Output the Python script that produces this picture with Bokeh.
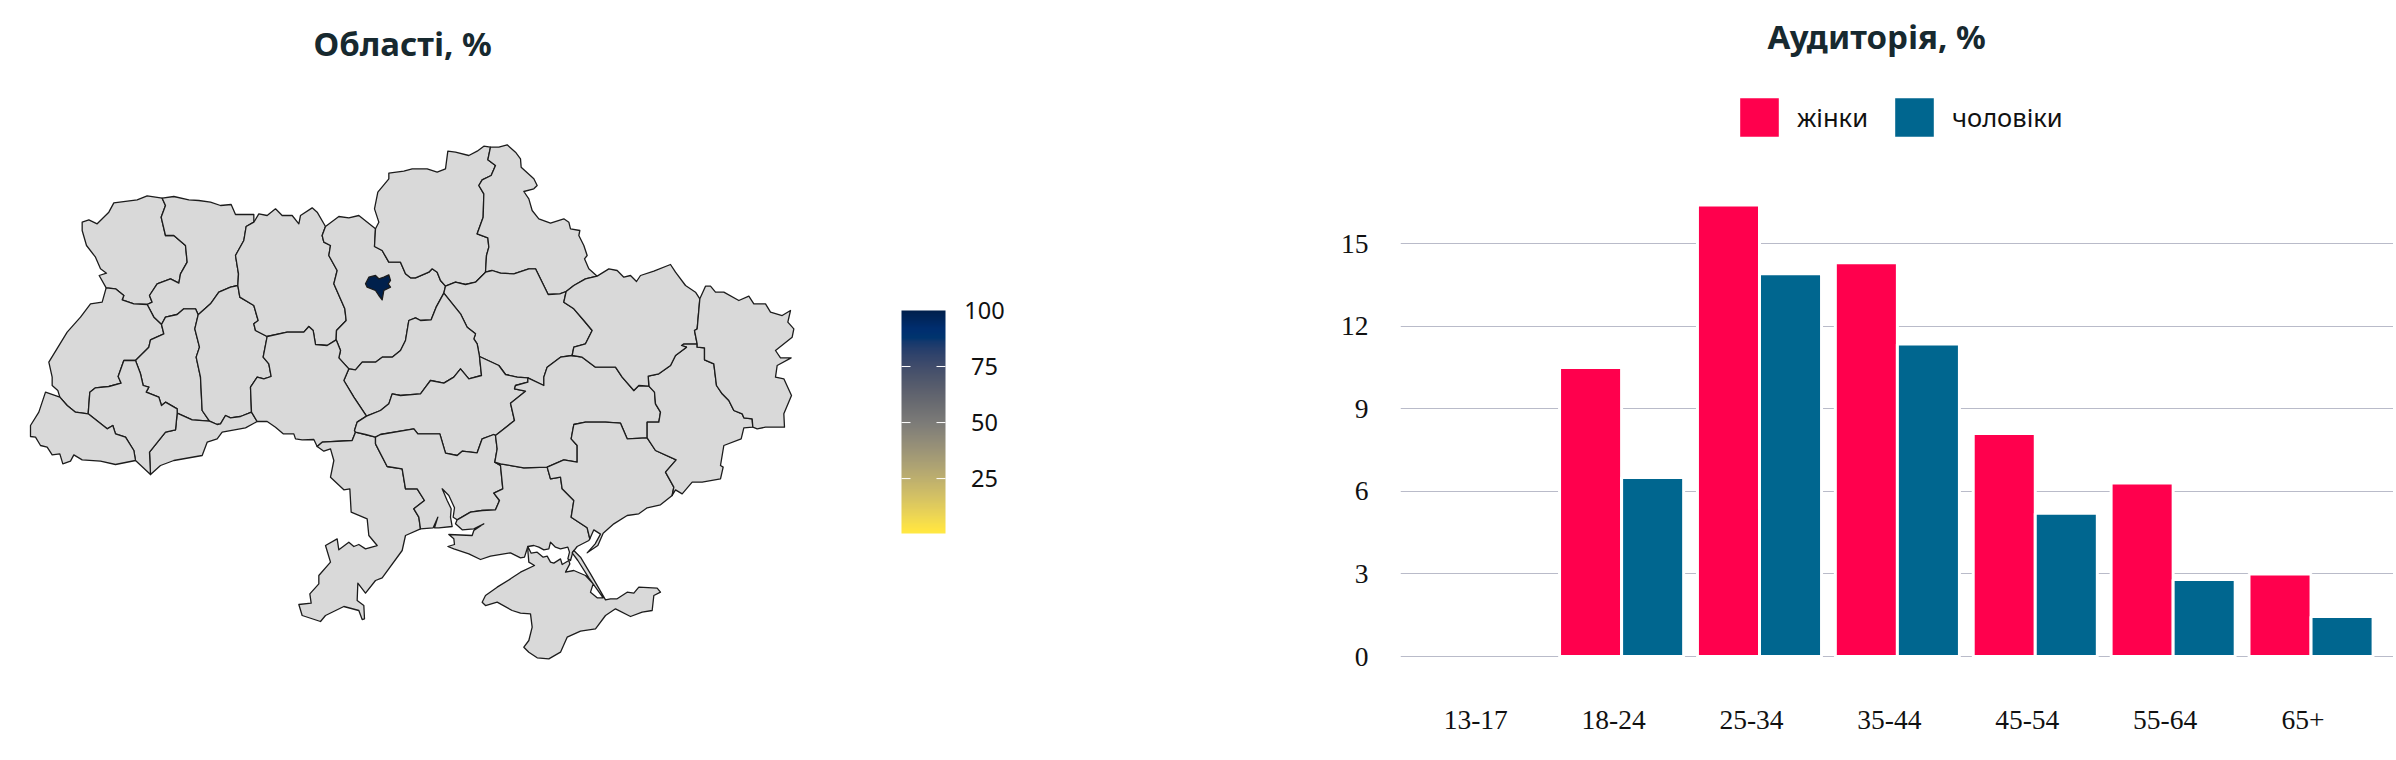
from bokeh.plotting import figure
from bokeh.layouts import row
from bokeh.embed import file_html
from bokeh.resources import INLINE
from bokeh.models import (Range1d, ColumnDataSource, LinearColorMapper, ColorBar, FixedTicker,
                          Legend, LegendItem, Title)
from bokeh.palettes import Cividis256
from bokeh.core.properties import value

# ---------- audience data ----------
age_groups = ["13-17", "18-24", "25-34", "35-44", "45-54", "55-64", "65+"]
women = [0, 10.5, 16.4, 14.3, 8.1, 6.3, 3.0]
men = [0, 6.5, 13.9, 11.35, 5.2, 2.8, 1.45]
y_ticks = [0, 3, 6, 9, 12, 15]

# ---------- map outlines, in trace units of three per pixel ----------
def rev(a):
    return a[::-1]
def s2(a):
    return [(x + 1200, y) for x, y in a]
def s3(a):
    return [(x + 840, y + 900) for x, y in a]

volyn_outer = [(485,233),(440,226),(410,238),(340,247),(325,275),(290,310),(265,298),(245,305),(245,330),(258,375),(285,410),(300,445),(318,458),(296,465),(317,502)]
volyn_lviv = [(317,502),(345,505),(370,525),(365,538),(400,550),(440,552)]
volyn_rivne = [(440,552),(455,545),(447,525),(470,490),(510,475),(535,488),(540,460),(560,425),(555,375),(520,345),(495,345),(482,290),(495,255),(485,233)]
rivne_north = [(485,233),(520,228),(565,238),(595,240),(630,245),(660,255),(692,252),(705,282),(760,282),(760,305)]
rivne_zhyt = [(760,305),(737,318),(730,360),(705,405),(714,460),(712,495)]
rivne_khmel = [(712,495),(690,500),(655,515),(630,550),(593,583)]
rivne_tern = [(593,583),(585,565),(550,565),(530,582),(495,590),(483,612)]
rivne_lviv = [(483,612),(460,590),(440,552)]
lviv_outer = [(317,502),(305,545),(270,550),(240,590),(200,635),(145,725),(155,770),(155,795),(172,810),(178,830)]
lviv_zak = [(178,830),(200,855),(225,875),(263,880)]
lviv_if = [(263,880),(268,815),(285,802),(325,798),(362,788),(353,768),(370,720),(405,720)]
lviv_tern = [(405,720),(445,680),(450,658),(490,640),(483,612)]
tern_if = [(405,720),(420,760),(428,795),(445,800),(437,815),(475,830),(483,855),(495,845),(530,865),(530,878)]
tern_chern = [(530,878),(575,898),(627,902)]
tern_khmel = [(627,902),(605,870),(600,770),(587,710),(597,680),(583,625),(593,583)]
khmel_zhyt = [(712,495),(718,530),(760,555),(773,600),(760,610),(765,630),(800,648)]
khmel_vinn = [(800,648),(788,710),(805,730),(812,768),(790,775),(770,770),(750,800),(753,875)]
khmel_chern = [(753,875),(720,888),(690,892),(675,885),(660,910),(650,912),(627,902)]
chern_vinn = [(753,875),(770,903)]
chern_outer = [(770,903),(735,922),(665,935),(650,955),(620,965),(605,1005),(520,1020),(480,1035),(450,1062)]
chern_if = [(450,1062),(447,995),(495,935),(525,928),(530,878)]
if_zak = [(263,880),(320,925),(337,915),(345,940),(375,950),(400,990),(405,1020)]
if_outer = [(405,1020),(450,1062)]
zak_outer = [(178,830),(135,815),(115,875),(90,915),(90,948),(105,950),(120,975),(140,980),(155,1003),(178,1000),(187,1030),(210,1022),(220,1003),(245,1018),(300,1022),(345,1032),(405,1020)]
zhyt_north = [(760,305),(775,280),(800,285),(825,265),(845,285),(875,285),(895,310),(900,285),(935,262),(950,275),(975,318)]
zhyt_kyiv = [(975,318),(965,345),(970,365),(990,375),(985,405),(1010,450),(1000,490),(1033,565),(1037,600),(1008,630),(1007,658)]
zhyt_vinn = [(1007,658),(980,675),(945,672),(938,630),(925,618),(910,635),(860,635),(800,648)]
kyiv_north = [(975,318),(1015,288),(1045,292),(1075,285),(1125,325)]
kyiv_chernihiv = [(1125,325),(1122,378),(1145,390),(1165,425),(1200,425),(1215,460),(1230,472),(1245,472),(1285,455),(1295,445),(1310,455),(1320,480),(1335,497)]
kyiv_poltava = [(1335,497),(1330,518)]
kyiv_cherkasy = [(1330,518),(1307,560),(1292,598),(1260,600),(1245,592),(1225,600),(1215,660),(1200,690),(1175,710),(1145,710),(1125,725),(1085,725),(1065,748),(1045,745)]
kyiv_vinn = [(1045,745),(1015,712),(1020,690),(1007,658)]
chernihiv_north = [(1125,325),(1135,305),(1122,265),(1132,215),(1165,175),(1165,158),(1210,152),(1235,145),(1280,145),(1310,155),(1335,145),(1342,92),(1365,95),(1405,105),(1430,92),(1450,77),(1470,80)]
chernihiv_sumy = s2([(270,80),(262,118),(285,135),(272,165),(245,178),(235,195),(250,220),(248,290),(230,340),(262,352),(265,380),(258,405),(255,455)])
chernihiv_poltava = s2([(255,455),(225,485),(195,492),(165,485),(135,497)])
sumy_north = s2([(270,80),(295,80),(320,73),(345,95),(360,115),(362,140),(400,175),(410,195),(400,205),(370,213),(385,235),(395,270),(415,295),(450,308),(490,295),(505,305),(510,325),(538,330),(535,345),(550,375),(560,405),(552,415),(565,445),(590,467)])
sumy_kharkiv = s2([(590,467),(555,475),(520,495),(497,513)])
sumy_poltava = s2([(497,513),(478,520),(443,522),(405,445),(385,445),(340,460),(300,458),(275,450),(255,455)])
poltava_kharkiv = s2([(497,513),(490,545),(520,565),(550,600),(575,630),(555,670),(520,680),(515,705)])
poltava_dnipro = s2([(515,705),(480,710),(440,740),(430,770),(430,795),(382,772)])
poltava_kirov = s2([(382,772),(350,770),(315,762),(295,735),(237,708)])
poltava_cherkasy = s2([(237,708),(230,670),(220,655),(225,640),(200,620),(180,580),(130,518)])
cherkasy_vinn = [(1045,745),(1030,780),(1060,830),(1098,887)]
cherkasy_kirov = [(1098,887),(1140,870),(1165,850),(1175,820),(1200,825)] + s2([(60,820),(75,800),(90,780),(130,788),(160,770),(180,745),(205,775),(243,765),(237,708)])
vinn_kirov = [(1098,887),(1070,905),(1062,930),(1065,935)]
vinn_odesa = [(1065,935),(1055,960),(965,965),(950,978)]
vinn_outer = [(950,978),(940,957),(905,958),(885,955),(880,940),(848,940),(825,920),(800,903),(770,903)]
odesa_coast = s3([(110,78),(130,92),(150,85),(160,120),(150,170),(190,208),(208,205),(212,275),(260,295),(265,345),(290,375),(255,385),(235,372),(220,378),(205,365),(175,388),(170,355),(135,375),(150,425),(115,465),(115,490),(88,520),(92,548),(55,552),(65,585),(120,603),(135,585),(190,558),(235,570),(245,597),(252,595),(250,555),(230,540),(232,488),(255,518),(285,480),(305,472),(365,390),(375,345),(420,325)])
odesa_mykolaiv = s3([(420,325),(415,290),(400,265),(432,240),(410,205),(375,205),(365,145),(320,138),(285,70),(285,50)])
odesa_kirov = s3([(285,50),(255,42),(225,35)])
kirov_mykolaiv = s3([(285,50),(300,42),(400,25),(412,40),(478,40),(495,98),(530,105),(545,92),(590,97),(605,55),(640,42),(645,45)])
kirov_dnipro = s2([(285,945),(342,900),(330,848),(375,812),(342,805),(345,795),(382,785),(382,772)])
mykolaiv_dnipro = s2([(285,945),(290,985),(283,1025)])
mykolaiv_kherson = s3([(643,125),(660,135),(667,205),(640,218),(657,240),(645,268),(605,270),(570,275),(530,298)])
mykolaiv_coast = s3([(530,298),(518,290),(522,262),(505,225),(485,205),(500,240),(512,265),(510,290),(515,318),(475,322),(462,322),(472,290),(458,322),(420,325)])
kherson_dnipro = s3([(643,125),(660,130),(730,142),(800,140)])
kherson_zap = s3([(800,140),(810,175),(840,170),(845,205),(880,240),(872,290),(920,322),(928,355)])
kherson_coast = s3([(928,355),(925,360),(890,378),(877,395),(870,420),(862,415),(867,395),(862,380),(840,385),(825,380),(810,365),(805,385),(790,388),(775,380),(760,375),(742,378),(732,410),(720,412),(690,397),(630,407),(600,417),(565,400),(520,385),(502,378),(522,372),(520,355),(505,342),(575,345),(580,330),(610,310),(580,325),(545,328),(525,310),(530,298)])
dnipro_zap = s2([(740,952),(680,955),(660,908),(615,905),(555,905),(520,912),(512,955),(530,975),(530,1025),(490,1018),(440,1040)])
dnipro_donetsk = s2([(745,797),(762,815),(765,850),(780,875),(775,905),(740,905),(740,952)])
dnipro_kharkiv = s2([(515,705),(545,710),(585,740),(645,740),(665,770),(700,810),(715,795),(745,797)])
zap_donetsk = s3([(1100,52),(1125,90),(1187,118),(1155,155),(1180,200),(1175,225)])
zap_coast = s3([(1175,225),(1140,253),(1100,262),(1075,280),(1040,285),(1000,310),(968,338),(952,375),(920,397),(944,370),(960,341),(940,328),(928,355)])
donetsk_kharkiv = s2([(745,797),(743,767),(775,760),(810,735),(825,705),(858,680),(843,675),(850,670),(890,670)])
donetsk_luhansk = s2([(890,670),(890,680),(912,682),(912,718),(940,730),(948,795),(965,820),(985,840),(1000,870),(1025,880),(1030,892),(1055,895),(1057,920)])
donetsk_outer = s2([(1057,920),(1030,922),(1022,955),(970,975),(960,1035),(968,1040),(960,1075),(905,1085),(875,1085),(845,1120),(825,1108),(815,1125)])
kharkiv_north = s2([(590,467),(625,445),(650,450),(670,470),(690,465),(708,483),(720,465),(760,452),(810,432),(825,455),(855,495),(885,515),(898,535)])
kharkiv_luhansk = s2([(898,535),(890,625),(882,630),(890,670)])
luhansk_outer = s2([(898,535),(915,497),(930,497),(945,515),(970,515),(1015,540),(1045,527),(1060,550),(1095,550),(1110,575),(1145,585),(1170,570),(1162,605),(1180,625),(1175,650),(1125,690),(1140,712),(1172,712),(1130,735),(1125,770),(1150,775),(1173,825),(1150,880),(1152,920),(1095,920),(1070,925),(1057,920)])
crimea = s3([(742,378),(742,390),(745,425),(762,435),(720,455),(690,475),(650,500),(615,525),(605,545),(615,555),(650,545),(695,570),(720,578),(750,580),(755,620),(745,660),(730,680),(745,695),(770,712),(805,715),(840,695),(860,650),(900,632),(945,625),(975,585),(1005,565),(1050,588),(1085,575),(1115,570),(1120,525),(1140,515),(1130,503),(1075,500),(1060,518),(1040,515),(1010,535),(990,535),(975,538),(930,460),(900,410),(880,390),(875,397),(892,420),(925,472),(968,532),(950,532),(930,515),(938,490),(915,465),(880,450),(855,455),(868,430),(865,420),(845,432),(840,415),(820,428),(810,425),(800,407),(788,410),(770,395),(752,398),(742,378)])
kyiv_city = [(1095,490),(1105,470),(1125,465),(1135,475),(1150,470),(1165,463),(1170,480),(1163,490),(1170,500),(1150,510),(1145,538),(1135,525),(1125,510),(1100,500)]

regions = {
    "Волинська": volyn_outer + volyn_lviv + volyn_rivne,
    "Рівненська": rivne_north + rivne_zhyt + rivne_khmel + rivne_tern + rivne_lviv + volyn_rivne,
    "Львівська": lviv_outer + lviv_zak + lviv_if + lviv_tern + rivne_lviv + rev(volyn_lviv),
    "Тернопільська": tern_if + tern_chern + tern_khmel + rivne_tern + rev(lviv_tern),
    "Хмельницька": khmel_zhyt + khmel_vinn + khmel_chern + tern_khmel + rev(rivne_khmel),
    "Чернівецька": chern_vinn + chern_outer + chern_if + tern_chern + rev(khmel_chern),
    "Івано-Франківська": if_zak + if_outer + chern_if + rev(tern_if) + rev(lviv_if),
    "Закарпатська": zak_outer + rev(if_zak) + rev(lviv_zak),
    "Житомирська": zhyt_north + zhyt_kyiv + zhyt_vinn + rev(khmel_zhyt) + rev(rivne_zhyt),
    "Київська": kyiv_north + kyiv_chernihiv + kyiv_poltava + kyiv_cherkasy + kyiv_vinn + rev(zhyt_kyiv),
    "Чернігівська": chernihiv_north + chernihiv_sumy + chernihiv_poltava + rev(kyiv_chernihiv),
    "Сумська": sumy_north + sumy_kharkiv + sumy_poltava + rev(chernihiv_sumy),
    "Полтавська": rev(chernihiv_poltava) + rev(sumy_poltava) + poltava_kharkiv + poltava_dnipro + poltava_kirov + poltava_cherkasy + rev(kyiv_poltava),
    "Черкаська": rev(kyiv_cherkasy) + rev(poltava_cherkasy) + rev(cherkasy_kirov) + rev(cherkasy_vinn),
    "Вінницька": rev(zhyt_vinn) + rev(kyiv_vinn) + cherkasy_vinn + vinn_kirov + vinn_odesa + vinn_outer + rev(chern_vinn) + rev(khmel_vinn),
    "Одеська": vinn_odesa + odesa_coast + odesa_mykolaiv + odesa_kirov,
    "Кіровоградська": rev(odesa_kirov) + kirov_mykolaiv + kirov_dnipro + poltava_kirov + rev(cherkasy_kirov) + vinn_kirov,
    "Миколаївська": kirov_mykolaiv + mykolaiv_dnipro + mykolaiv_kherson + mykolaiv_coast + odesa_mykolaiv,
    "Херсонська": kherson_dnipro + kherson_zap + kherson_coast + rev(mykolaiv_kherson),
    "Дніпропетровська": rev(poltava_dnipro) + dnipro_kharkiv + dnipro_donetsk + dnipro_zap + rev(kherson_dnipro) + rev(mykolaiv_dnipro) + kirov_dnipro,
    "Запорізька": rev(dnipro_zap) + zap_donetsk + zap_coast + rev(kherson_zap),
    "Донецька": donetsk_kharkiv + donetsk_luhansk + donetsk_outer + rev(zap_donetsk) + rev(dnipro_donetsk),
    "Харківська": kharkiv_north + kharkiv_luhansk + rev(donetsk_kharkiv) + rev(dnipro_kharkiv) + rev(poltava_kharkiv) + rev(sumy_kharkiv),
    "Луганська": luhansk_outer + rev(donetsk_luhansk) + rev(kharkiv_luhansk),
    "АР Крим": crimea,
    "м. Київ": kyiv_city,
}
region_values = {"м. Київ": 100}
scale_ticks = [25, 50, 75, 100]

TITLE_COLOR = "#17292f"
UI_FONT = "Noto Sans"

# ---------- map ----------
names = list(regions)
src = ColumnDataSource(dict(
    name=names,
    xs=[[x for x, _ in regions[n]] for n in names],
    ys=[[y for _, y in regions[n]] for n in names],
    v=[region_values.get(n, float("nan")) for n in names],
))
SCALE_LOW, SCALE_HIGH = 0.5, 100
mapper = LinearColorMapper(palette=list(Cividis256)[::-1], low=SCALE_LOW, high=SCALE_HIGH, nan_color="#d9d9d9")

left = figure(width=1300, height=744, output_backend="svg", toolbar_location=None,
              x_range=Range1d(0, 3900), y_range=Range1d(1620, -165),
              min_border=0, min_border_top=65, min_border_left=0, min_border_right=0, min_border_bottom=84,
              outline_line_color=None, background_fill_color="white", border_fill_color="white")
left.axis.visible = False
left.grid.visible = False
left.patches("xs", "ys", source=src,
             fill_color={"field": "v", "transform": mapper},
             line_color="#1c1c1c", line_width=1.3, line_join="round")

bar = ColorBar(color_mapper=mapper, location=(901, 127), width=44, height=223, padding=0, margin=0,
               ticker=FixedTicker(ticks=scale_ticks), major_label_overrides={t: "" for t in scale_ticks},
               major_tick_line_color=None, minor_tick_line_color=None, bar_line_color=None,
               border_line_color=None, background_fill_color=None)
left.add_layout(bar, "center")

# scale ticks and labels, placed through the colour scale's own value-to-height relation
def scale_y(v):
    top, bottom = (310 - 120) * 3, (533 - 120) * 3
    return bottom + (top - bottom) * (v - SCALE_LOW) / (SCALE_HIGH - SCALE_LOW)

inner_ticks = [t for t in scale_ticks if t < SCALE_HIGH]
left.segment(x0=[2703] * 3, x1=[2730] * 3, y0=[scale_y(t) for t in inner_ticks], y1=[scale_y(t) for t in inner_ticks],
             line_color="white", line_width=1, level="overlay")
left.segment(x0=[2808] * 3, x1=[2835] * 3, y0=[scale_y(t) for t in inner_ticks], y1=[scale_y(t) for t in inner_ticks],
             line_color="white", line_width=1, level="overlay")
left.text(x=[2952] * 4, y=[scale_y(t) for t in scale_ticks], text=[str(t) for t in scale_ticks],
          text_align="center", text_baseline="middle", text_font=value(UI_FONT), text_font_size="23.5px",
          text_color="#111111")

left.title = Title(text="Області, %", text_font=UI_FONT, text_font_size="33px", text_font_style="bold",
                   text_color=TITLE_COLOR, align="left", offset=313, standoff=0)

# ---------- bars ----------
right = figure(width=1093, height=744, output_backend="svg", toolbar_location=None,
               x_range=Range1d(-0.6035, 6.598), y_range=Range1d(-0.145, 21.467),
               min_border=0, min_border_left=100, min_border_top=65, min_border_bottom=84, min_border_right=0,
               outline_line_color=None, background_fill_color="white", border_fill_color="white")
xs = list(range(len(age_groups)))
BAR = 0.45
women_shown = [(i, w) for i, w in zip(xs, women) if w > 0]
men_shown = [(i, m) for i, m in zip(xs, men) if m > 0]
r1 = right.vbar(x=[i - BAR / 2 for i, _ in women_shown], top=[w for _, w in women_shown], bottom=0, width=BAR,
                fill_color="#ff004d", line_color="white", line_width=3)
r2 = right.vbar(x=[i + BAR / 2 for i, _ in men_shown], top=[m for _, m in men_shown], bottom=0, width=BAR,
                fill_color="#00668f", line_color="white", line_width=3)
right.xaxis.ticker = FixedTicker(ticks=[i - 0.058 for i in xs])
right.xaxis.major_label_overrides = {i - 0.058: g for i, g in zip(xs, age_groups)}
right.yaxis.ticker = FixedTicker(ticks=y_ticks)
for ax in (right.xaxis, right.yaxis):
    ax.axis_line_color = None
    ax.major_tick_line_color = None
    ax.minor_tick_line_color = None
    ax.major_label_text_font = "Liberation Serif"
    ax.major_label_text_font_size = "27.5px"
    ax.major_label_text_color = "#111111"
right.xaxis.major_label_standoff = 44
right.yaxis.major_label_standoff = 26
right.xgrid.visible = False
right.ygrid.ticker = FixedTicker(ticks=y_ticks)
right.ygrid.grid_line_color = "#b9bbc9"
right.ygrid.grid_line_width = 1
legend = Legend(items=[LegendItem(label="жінки", renderers=[r1]), LegendItem(label="чоловіки", renderers=[r2])],
                location=(333, 517), orientation="horizontal", padding=0, margin=0, spacing=20,
                glyph_width=52, glyph_height=52, label_standoff=12, border_line_color=None,
                background_fill_color=None, label_text_font=UI_FONT, label_text_font_size="25.5px",
                label_text_color="#111111")
right.add_layout(legend, "center")
right.title = Title(text="Аудиторія, %", text_font=UI_FONT, text_font_size="33px", text_font_style="bold",
                    text_color=TITLE_COLOR, align="left", offset=367, standoff=13)

open("out.html", "w").write(file_html(row(left, right, spacing=0), INLINE))
